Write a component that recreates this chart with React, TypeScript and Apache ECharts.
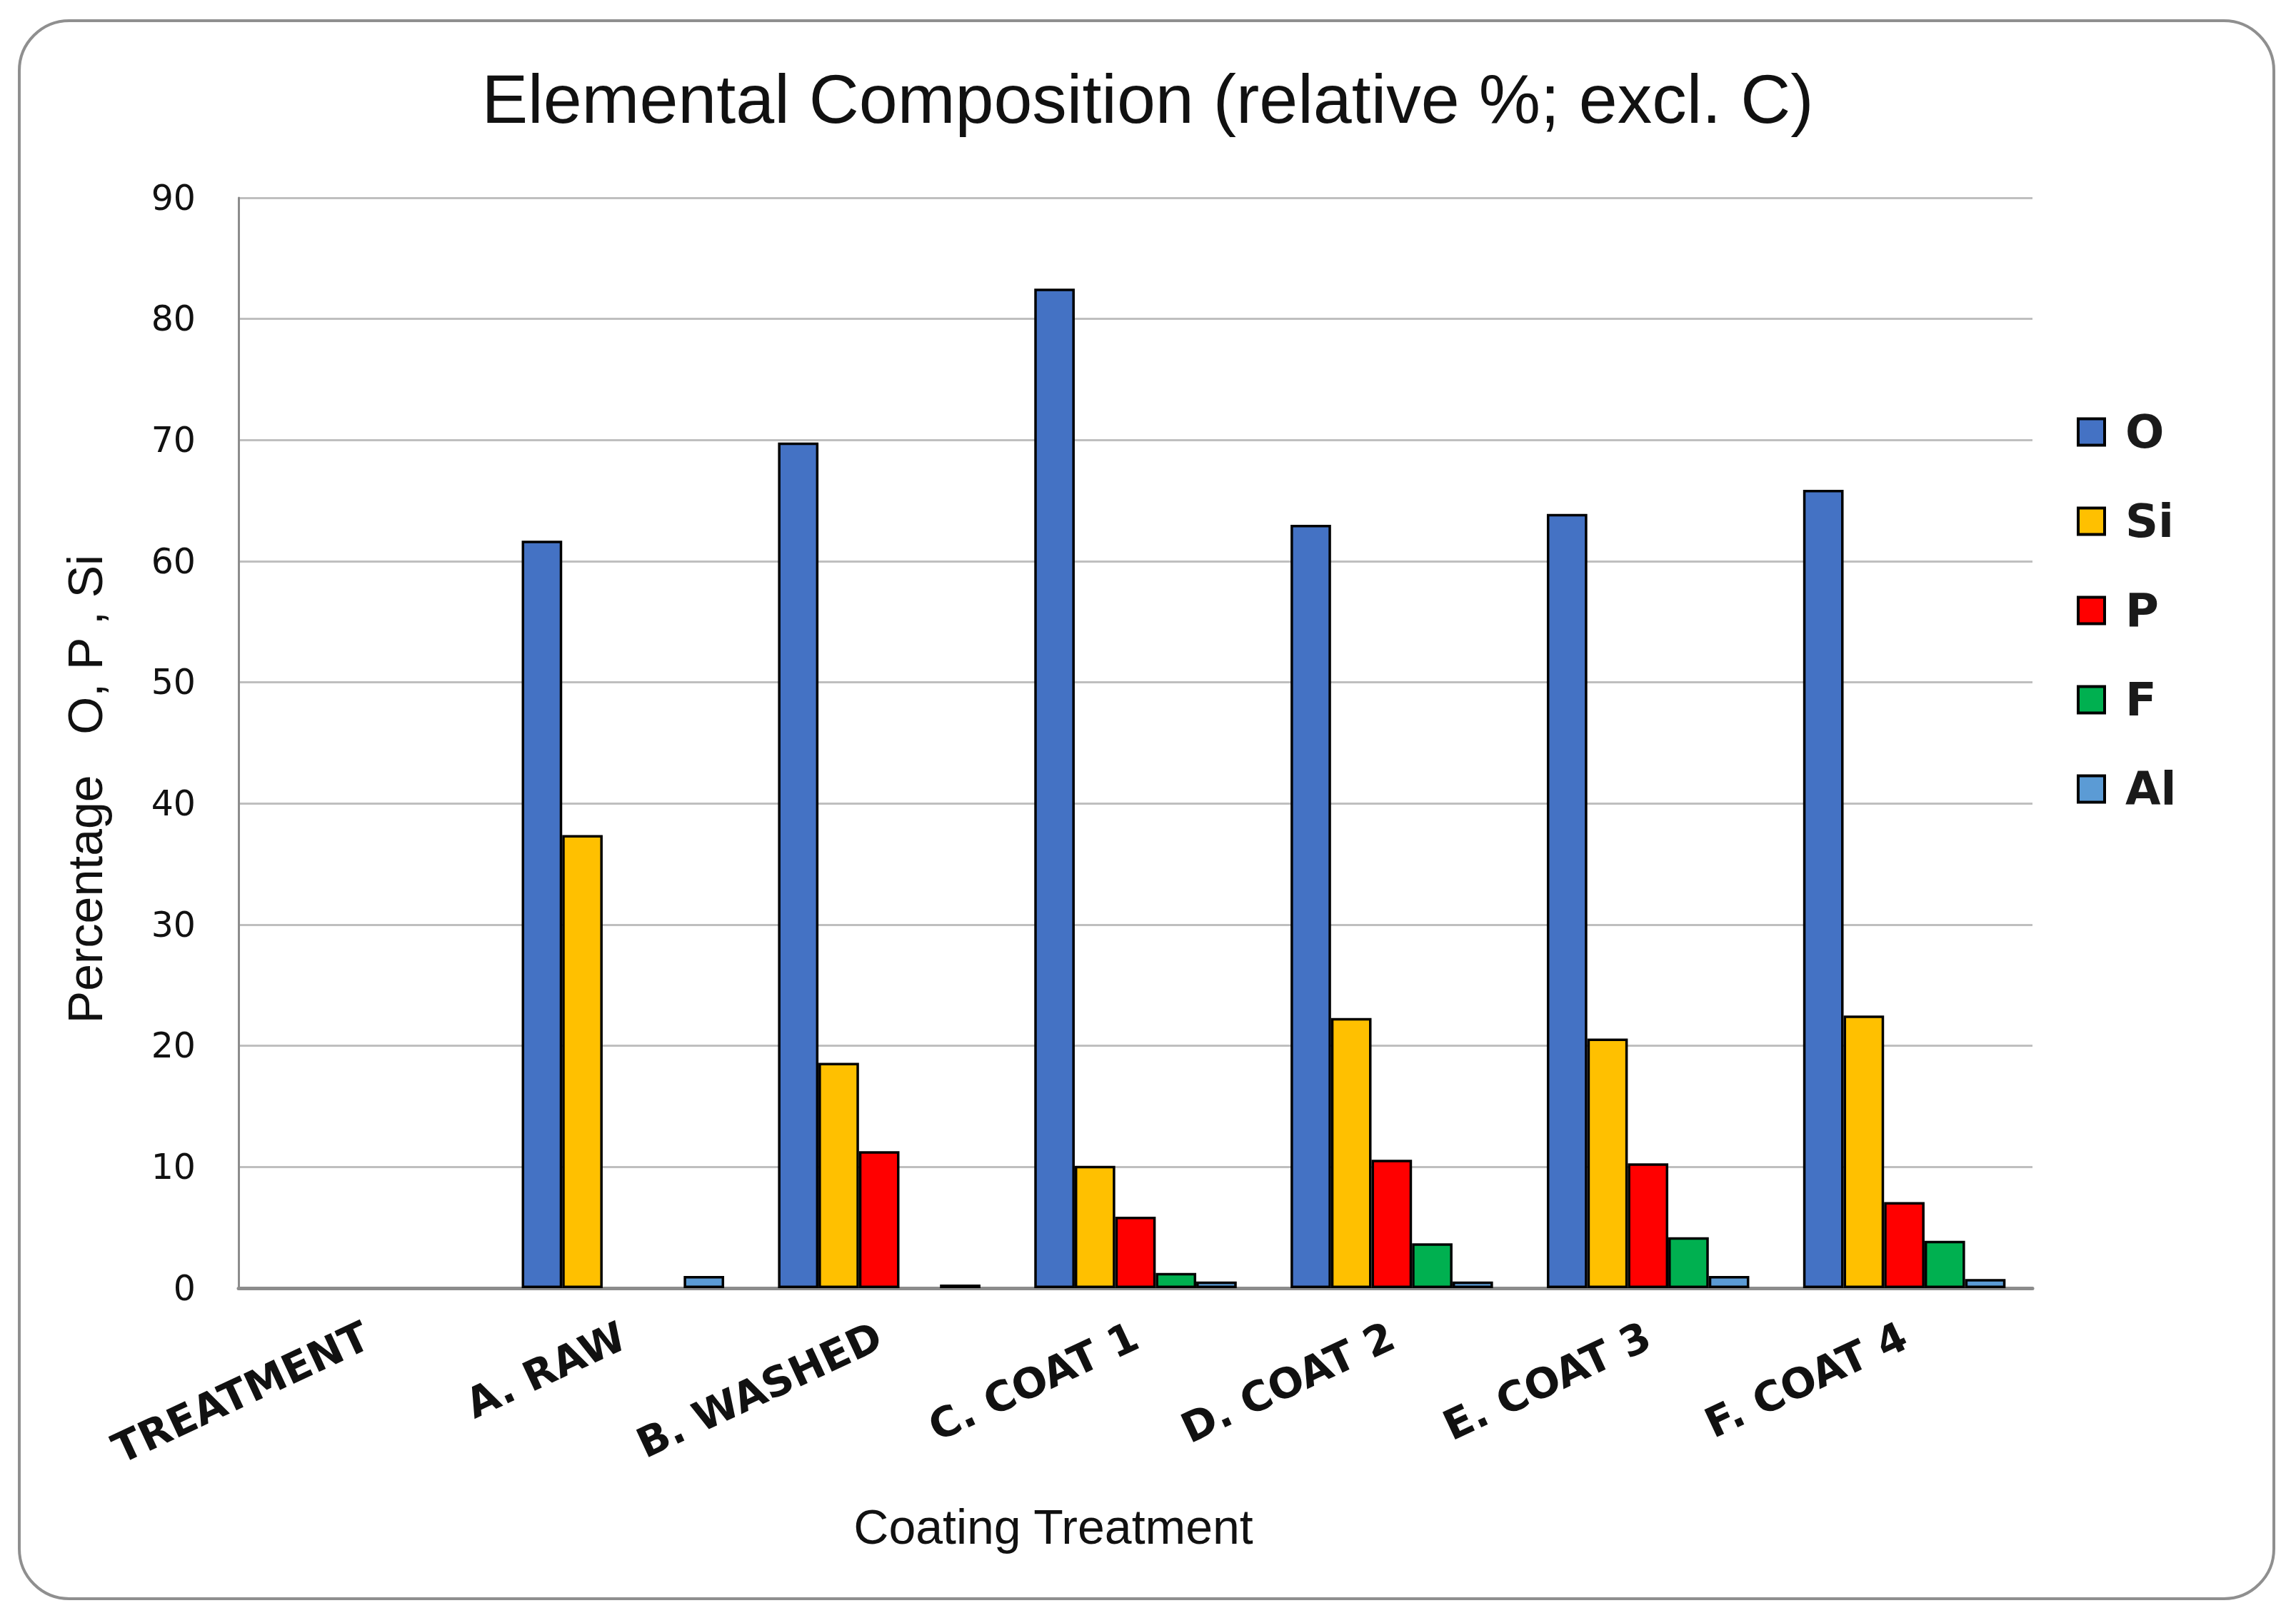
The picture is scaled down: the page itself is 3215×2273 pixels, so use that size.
import React, { useEffect, useRef } from "react";
import * as echarts from "echarts";

const categories = ["TREATMENT", "A. RAW", "B. WASHED", "C. COAT 1", "D. COAT 2", "E. COAT 3", "F. COAT 4"];
const seriesNames = ["O", "Si", "P", "F", "Al"];
const oValues = [null, 61.7, 69.8, 82.5, 63.0, 63.9, 65.9];
const siValues = [null, 37.4, 18.6, 10.1, 22.3, 20.6, 22.5];
const pValues = [null, null, 11.3, 5.9, 10.6, 10.3, 7.1];
const fValues = [null, null, null, 1.25, 3.7, 4.2, 3.9];
const alValues = [null, 1.0, 0.3, 0.55, 0.55, 1.0, 0.75];
const colors = ["#4472C4", "#FFC000", "#FF0000", "#00B050", "#5B9BD5"];
const yTicks = { min: 0, max: 90, interval: 10 };

const W = 3215;
const H = 2273;

export default function App() {
  const ref = useRef<HTMLDivElement>(null);
  useEffect(() => {
    if (!ref.current) return;
    const chart = echarts.init(ref.current, undefined, { renderer: "svg", width: W, height: H });
    const allValues = [oValues, siValues, pValues, fValues, alValues];
    const option = {
      animation: false,
      backgroundColor: "#ffffff",
      graphic: [
        {
          type: "rect",
          shape: { x: 27, y: 29, width: 3157, height: 2210, r: 70 },
          style: { fill: "none", stroke: "#8f8f8f", lineWidth: 4 },
          silent: true,
        },
        {
          type: "text",
          x: 1607,
          y: 138,
          style: {
            text: "Elemental Composition (relative %; excl. C)",
            font: "97px 'Liberation Sans', Arial, sans-serif",
            fill: "#111111",
            align: "center",
            verticalAlign: "middle",
          },
        },
        {
          type: "text",
          x: 119,
          y: 1105,
          rotation: Math.PI / 2,
          style: {
            text: "Percentage   O, P , Si",
            font: "68px 'Liberation Sans', Arial, sans-serif",
            fill: "#111111",
            align: "center",
            verticalAlign: "middle",
          },
        },
        {
          type: "text",
          x: 1475,
          y: 2138,
          style: {
            text: "Coating Treatment",
            font: "68px 'Liberation Sans', Arial, sans-serif",
            fill: "#111111",
            align: "center",
            verticalAlign: "middle",
          },
        },
      ],
      legend: {
        orient: "vertical",
        left: 2903,
        top: 568,
        itemWidth: 37,
        itemHeight: 37,
        itemGap: 61,
        icon: "rect",
        data: seriesNames,
        itemStyle: { borderColor: "#000000", borderWidth: 4 },
        textStyle: {
          fontFamily: "'DejaVu Sans', Verdana, sans-serif",
          fontWeight: "bold",
          fontSize: 64,
          color: "#1a1a1a",
          padding: [0, 0, 0, 24],
        },
      },
      grid: { left: 334, right: W - 2846, top: 277, bottom: H - 1804, containLabel: false },
      xAxis: {
        type: "category",
        data: categories,
        axisTick: { show: false },
        axisLine: { show: true, lineStyle: { color: "#8c8c8c", width: 5 } },
        axisLabel: {
          interval: 0,
          rotate: 25,
          margin: 64,
          fontFamily: "'DejaVu Sans', Verdana, sans-serif",
          fontWeight: "bold",
          fontSize: 58,
          color: "#111111",
        },
      },
      yAxis: {
        type: "value",
        min: yTicks.min,
        max: yTicks.max,
        interval: yTicks.interval,
        axisLine: { show: true, lineStyle: { color: "#8c8c8c", width: 3 } },
        axisTick: { show: false },
        splitLine: { show: true, lineStyle: { color: "#bfbfbf", width: 3 } },
        axisLabel: {
          margin: 60,
          fontFamily: "'DejaVu Sans', Verdana, sans-serif",
          fontSize: 49,
          color: "#111111",
        },
      },
      series: seriesNames.map((name, i) => ({
        name,
        type: "bar",
        data: allValues[i],
        barGap: "0%",
        barCategoryGap: "21%",
        itemStyle: { color: colors[i], borderColor: "#000000", borderWidth: 3.5 },
      })),
    };
    chart.setOption(option as any);
    return () => chart.dispose();
  }, []);
  return (
    <div
      ref={ref}
      style={{ position: "fixed", left: 0, top: 0, width: W, height: H, background: "#ffffff" }}
    />
  );
}
